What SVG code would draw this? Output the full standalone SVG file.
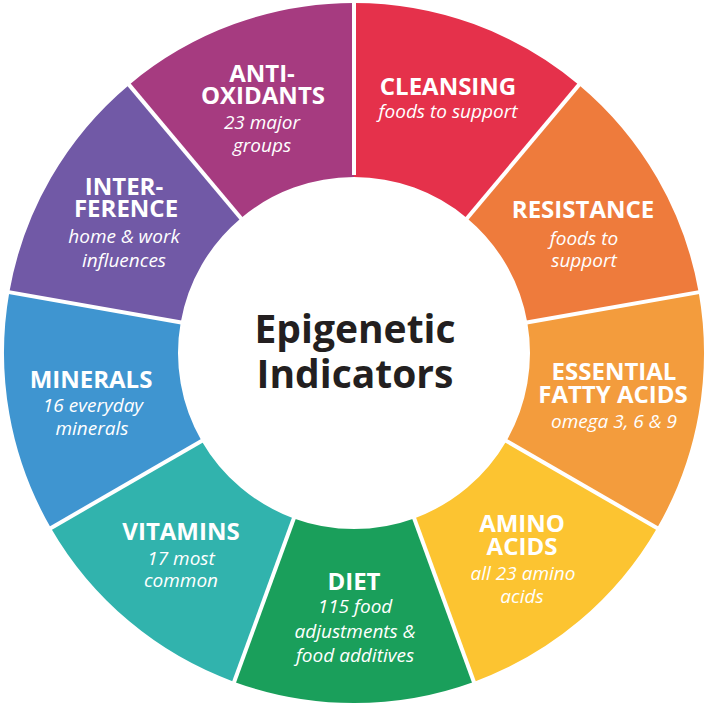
<svg xmlns="http://www.w3.org/2000/svg" width="708" height="708" viewBox="0 0 708 708">
<style>
.h{font-family:"Open Sans","Liberation Sans",sans-serif;font-weight:700;font-size:24px;fill:#fff;text-anchor:middle}
.s{font-family:"Open Sans","Liberation Sans",sans-serif;font-style:italic;font-weight:400;font-size:19px;fill:#fff;text-anchor:middle}
.t{font-family:"Open Sans","Liberation Sans",sans-serif;font-weight:700;font-size:39px;fill:#231F20;text-anchor:middle}
.sep{stroke:#fff;stroke-width:4;fill:none}
</style>
<rect width="708" height="708" fill="#fff"/>
<g id="cleansing">
<path d="M354,3 A350,350 0 0 1 578.98,84.9 L467.13,218.18 A176,176 0 0 0 354,177 Z" fill="#E5314B"/>
<text class="h" x="448" y="95">CLEANSING</text>
<text class="s" x="448" y="118">foods to support</text>
</g>
<g id="resistance">
<path d="M578.98,84.9 A350,350 0 0 1 698.68,292.24 L527.32,322.45 A176,176 0 0 0 467.13,218.18 Z" fill="#EE7B3C"/>
<text class="h" x="583" y="218">RESISTANCE</text>
<text class="s" x="584" y="245">foods to</text>
<text class="s" x="584" y="267">support</text>
</g>
<g id="essential">
<path d="M698.68,292.24 A350,350 0 0 1 657.1,528 L506.42,441 A176,176 0 0 0 527.32,322.45 Z" fill="#F39C3D"/>
<text class="h" x="614" y="380">ESSENTIAL</text>
<text class="h" x="613" y="403">FATTY ACIDS</text>
<text class="s" x="614" y="428">omega 3, 6 &amp; 9</text>
</g>
<g id="amino">
<path d="M657.1,528 A350,350 0 0 1 473.7,681.9 L414.19,518.39 A176,176 0 0 0 506.42,441 Z" fill="#FCC431"/>
<text class="h" x="522" y="532">AMINO</text>
<text class="h" x="522" y="555">ACIDS</text>
<text class="s" x="523" y="580">all 23 amino</text>
<text class="s" x="522" y="603">acids</text>
</g>
<g id="diet">
<path d="M473.7,681.9 A350,350 0 0 1 234.3,681.9 L293.81,518.39 A176,176 0 0 0 414.19,518.39 Z" fill="#1A9F5B"/>
<text class="h" x="354" y="590">DIET</text>
<text class="s" x="355" y="613">115 food</text>
<text class="s" x="355" y="638">adjustments &amp;</text>
<text class="s" x="355" y="662">food additives</text>
</g>
<g id="vitamins">
<path d="M234.3,681.9 A350,350 0 0 1 50.9,528 L201.58,441 A176,176 0 0 0 293.81,518.39 Z" fill="#31B3AD"/>
<text class="h" x="181" y="540">VITAMINS</text>
<text class="s" x="181" y="565">17 most</text>
<text class="s" x="181" y="587">common</text>
</g>
<g id="minerals">
<path d="M50.9,528 A350,350 0 0 1 9.32,292.24 L180.68,322.45 A176,176 0 0 0 201.58,441 Z" fill="#3F95D0"/>
<text class="h" x="91" y="388">MINERALS</text>
<text class="s" x="93" y="412">16 everyday</text>
<text class="s" x="92" y="435">minerals</text>
</g>
<g id="interference">
<path d="M9.32,292.24 A350,350 0 0 1 129.02,84.9 L240.87,218.18 A176,176 0 0 0 180.68,322.45 Z" fill="#7159A6"/>
<text class="h" x="124" y="195">INTER-</text>
<text class="h" x="126" y="217">FERENCE</text>
<text class="s" x="124" y="243">home &amp; work</text>
<text class="s" x="124" y="267">influences</text>
</g>
<g id="antioxidants">
<path d="M129.02,84.9 A350,350 0 0 1 354,3 L354,177 A176,176 0 0 0 240.87,218.18 Z" fill="#A63B80"/>
<text class="h" x="262" y="82">ANTI-</text>
<text class="h" x="263" y="104">OXIDANTS</text>
<text class="s" x="262" y="129">23 major</text>
<text class="s" x="262" y="152">groups</text>
</g>
<g id="separators">
<line class="sep" x1="354" y1="175" x2="354" y2="0"/>
<line class="sep" x1="465.8" y1="219.7" x2="581" y2="82.4"/>
<line class="sep" x1="525.3" y1="322.8" x2="702" y2="291.6"/>
<line class="sep" x1="504.7" y1="440" x2="660" y2="529.7"/>
<line class="sep" x1="413.5" y1="516.5" x2="475" y2="685"/>
<line class="sep" x1="294.5" y1="516.5" x2="233" y2="685"/>
<line class="sep" x1="203.3" y1="440" x2="48" y2="529.7"/>
<line class="sep" x1="182.7" y1="322.8" x2="6" y2="291.6"/>
<line class="sep" x1="242.2" y1="219.7" x2="127" y2="82.4"/>
</g>
<g id="center">
<text class="t" x="355" y="343">Epigenetic</text>
<text class="t" x="355" y="388">Indicators</text>
</g>
</svg>
